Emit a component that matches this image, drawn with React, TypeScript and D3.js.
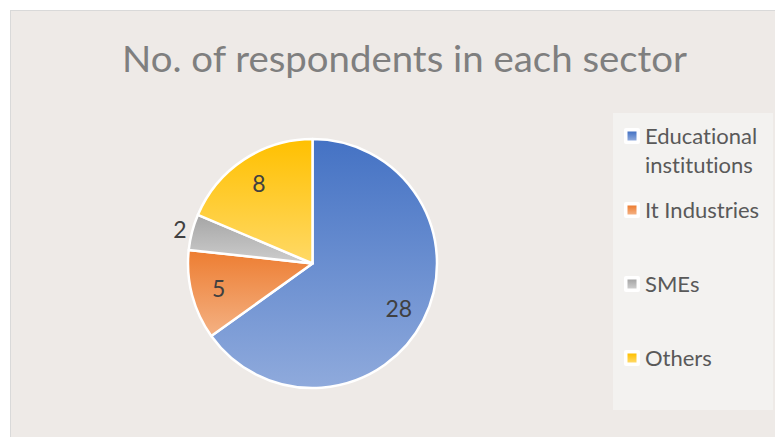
import React from "react";
import * as d3 from "d3";

const categories = ["Educational institutions", "It Industries", "SMEs", "Others"];
const legendLines = [["Educational", "institutions"], ["It Industries"], ["SMEs"], ["Others"]];
const values = [28, 5, 2, 8];
const topColors = ["#4472C4", "#ED7D31", "#A5A5A5", "#FFC000"];
const bottomColors = ["#8FAADC", "#F4B183", "#CDCDCD", "#FFD966"];
const title = "No. of respondents in each sector";

const W = 775;
const H = 437;
const FONT = "Lato, 'Open Sans', sans-serif";
const noLig = { fontVariantLigatures: "none" as const, fontFeatureSettings: "'liga' 0, 'clig' 0" };

export default function App() {
  const cx = 312.5;
  const cy = 263.5;
  const R = 124.5;
  const total = d3.sum(values);
  const pie = d3.pie<number>().sort(null).value((d) => d);
  const arcs = pie(values);
  const arc = d3.arc<d3.PieArcDatum<number>>().innerRadius(0).outerRadius(R);
  const inLabel = d3.arc<d3.PieArcDatum<number>>().innerRadius(R * 0.78).outerRadius(R * 0.78);
  const outLabel = d3.arc<d3.PieArcDatum<number>>().innerRadius(R * 1.1).outerRadius(R * 1.1);

  const legendX = 613;
  const legendY = 113;
  const legendW = 160;
  const legendH = 297;
  const step = 74;

  return (
    <svg
      width={W}
      height={H}
      style={{ position: "absolute", left: 0, top: 0, display: "block" }}
    >
      <defs>
        {values.map((_, i) => (
          <linearGradient key={i} id={`g${i}`} x1="0" y1="0" x2="0" y2="1">
            <stop offset="0" stopColor={topColors[i]} />
            <stop offset="1" stopColor={bottomColors[i]} />
          </linearGradient>
        ))}
      </defs>
      <rect x={0} y={0} width={W} height={H} fill="#ffffff" />
      <rect x={10.5} y={10.5} width={W} height={H} fill="#EEEAE7" stroke="#D9D9D9" strokeWidth={1} />
      <text
        x={404.5}
        y={72}
        textAnchor="middle"
        fontFamily={FONT}
        fontSize={37}
        fill="#7F7F7F"
        textLength={565}
        lengthAdjust="spacingAndGlyphs"
        style={noLig}
      >
        {title}
      </text>
      <g transform={`translate(${cx},${cy})`}>
        {arcs.map((a, i) => (
          <path key={i} d={arc(a) || ""} fill={`url(#g${i})`} stroke="#ffffff" strokeWidth={2.5} strokeLinejoin="round" />
        ))}
        {arcs.map((a, i) => {
          const outside = a.value / total < 0.06;
          const [x, y] = (outside ? outLabel : inLabel).centroid(a);
          return (
            <text
              key={i}
              x={x}
              y={y}
              textAnchor="middle"
              dominantBaseline="central"
              fontFamily={FONT}
              fontSize={23}
              fill="#404040"
            >
              {a.value}
            </text>
          );
        })}
      </g>
      <rect x={legendX} y={legendY} width={legendW} height={legendH} fill="#F3F2F0" />
      {categories.map((c, i) => {
        const my = legendY + 23 + i * step;
        return (
          <g key={c}>
            <rect x={624} y={my - 8} width={16} height={16} rx={2} fill="#ffffff" />
            <rect x={627.5} y={my - 4.5} width={9} height={9} fill={`url(#g${i})`} />
            <text fontFamily={FONT} fontSize={22} fill="#595959" style={noLig}>
              {legendLines[i].map((line, j) => (
                <tspan key={j} x={645} y={my + 8 + j * 29}>
                  {line}
                </tspan>
              ))}
            </text>
          </g>
        );
      })}
    </svg>
  );
}
